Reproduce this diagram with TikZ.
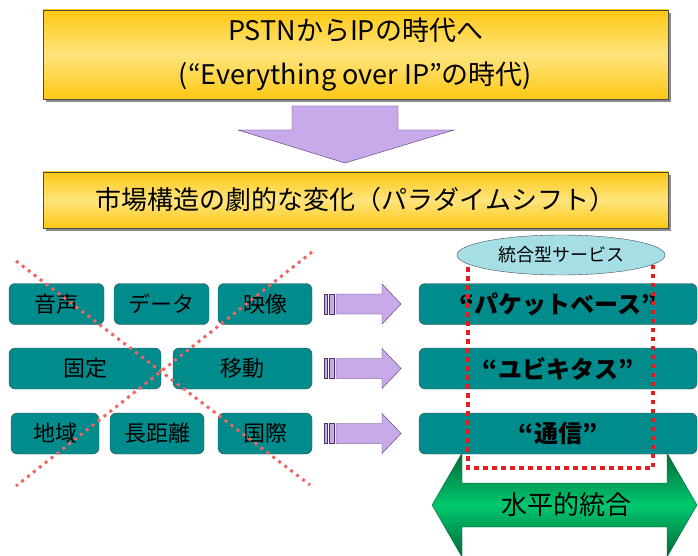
\documentclass[tikz,border=0pt]{standalone}
\usepackage{fontspec}
\setmainfont{Noto Sans CJK JP}
\usepackage{tikz}
\usetikzlibrary{shapes.geometric}

\definecolor{goldhi}{RGB}{255,228,125}
\definecolor{goldlo}{RGB}{253,200,20}
\definecolor{tealbox}{RGB}{0,140,140}
\definecolor{lilac}{RGB}{200,170,235}
\definecolor{lilacdk}{RGB}{80,50,110}
\definecolor{aqua}{RGB}{165,222,228}
\definecolor{dotred}{RGB}{228,30,30}
\definecolor{xred}{RGB}{238,100,100}
\definecolor{greendk}{RGB}{0,105,55}
\definecolor{greenlt}{RGB}{0,200,110}

\newcommand{\fs}[1]{\fontsize{#1}{#1}\selectfont}

\begin{document}
\begin{tikzpicture}
  [x=1pt,y=-1pt,
   banner/.style={draw=black!70,top color=goldlo,bottom color=goldlo,middle color=goldhi,
     minimum width=625,inner sep=0,align=center},
   tile/.style={draw=black!70,fill=tealbox,rounded corners=6,minimum height=41,inner sep=0,font=\fs{22}},
   wide/.style={tile,minimum width=278,font=\fs{24}\bfseries},
   shadow/.style={fill=black!45},
   blockarrow/.style={draw=lilacdk,fill=lilac}]
  \useasboundingbox (0,0) rectangle (698,556);

  % headings
  \fill[shadow] (46,13) rectangle (671,102);
  \fill[shadow] (46,175) rectangle (671,231);
  \node[banner,minimum height=89,font=\fontsize{27}{44}\selectfont] (era) at (355.5,54.5)
    {PSTNからIPの時代へ\\(“Everything over IP”の時代)};
  \node[banner,minimum height=56,font=\fs{26}] (shift) at (355.5,200)
    {市場構造の劇的な変化（パラダイムシフト）};
  \draw[blockarrow] (292,106) -- (398,106) -- (398,130) -- (454,130) -- (345,163)
    -- (238,130) -- (292,130) -- cycle;

  % old markets
  \node[tile,minimum width=95] (voice) at (56.5,304) {音声};
  \node[tile,minimum width=95] (data) at (161.5,304) {データ};
  \node[tile,minimum width=94] (video) at (265,304) {映像};
  \node[tile,minimum width=152] (fixed) at (85,368.5) {固定};
  \node[tile,minimum width=139] (mobile) at (242.5,368.5) {移動};
  \node[tile,minimum width=88] (local) at (55,433.5) {地域};
  \node[tile,minimum width=94] (long) at (157,433.5) {長距離};
  \node[tile,minimum width=94] (intl) at (265,433.5) {国際};

  \coordinate (xa) at (16,261);
  \coordinate (xb) at (310,485);
  \coordinate (xc) at (312,252);
  \coordinate (xd) at (16,486);
  \draw[xred,line width=3,dash pattern=on 3 off 4.5] (xa) -- (xb);
  \draw[xred,line width=3,dash pattern=on 3 off 4.5] (xc) -- (xd);

  \foreach \y in {304,368.5,433.5} {
    \draw[blockarrow] (324,\y-10) rectangle (327,\y+10);
    \draw[blockarrow] (329,\y-10) rectangle (334,\y+10);
    \draw[blockarrow] (336,\y-10) -- (382,\y-10) -- (382,\y-20) -- (401,\y)
      -- (382,\y+20) -- (382,\y+10) -- (336,\y+10) -- cycle;
  }

  % new markets
  \draw[draw=greendk,top color=greendk,bottom color=greendk,middle color=greenlt]
    (432,505) -- (462,453) -- (462,483) -- (667,483) -- (667,453) -- (697,505)
    -- (667,557) -- (667,527) -- (462,527) -- (462,557) -- cycle;
  \node[font=\fs{26}] (horiz) at (566,505) {水平的統合};

  \node[wide] (packet) at (558,304) {“パケットベース”};
  \node[wide] (ubiq) at (558,368.5) {“ユビキタス”};
  \node[wide] (comm) at (558,433.5) {“通信”};

  \draw[dotred,line width=4,dash pattern=on 4.5 off 4.5] (468,258) rectangle (653,468);
  \node[ellipse,draw=black!70,fill=aqua,minimum width=208,minimum height=40,inner sep=0,
    font=\fs{18}] (svc) at (561,255) {統合型サービス};
\end{tikzpicture}
\end{document}
